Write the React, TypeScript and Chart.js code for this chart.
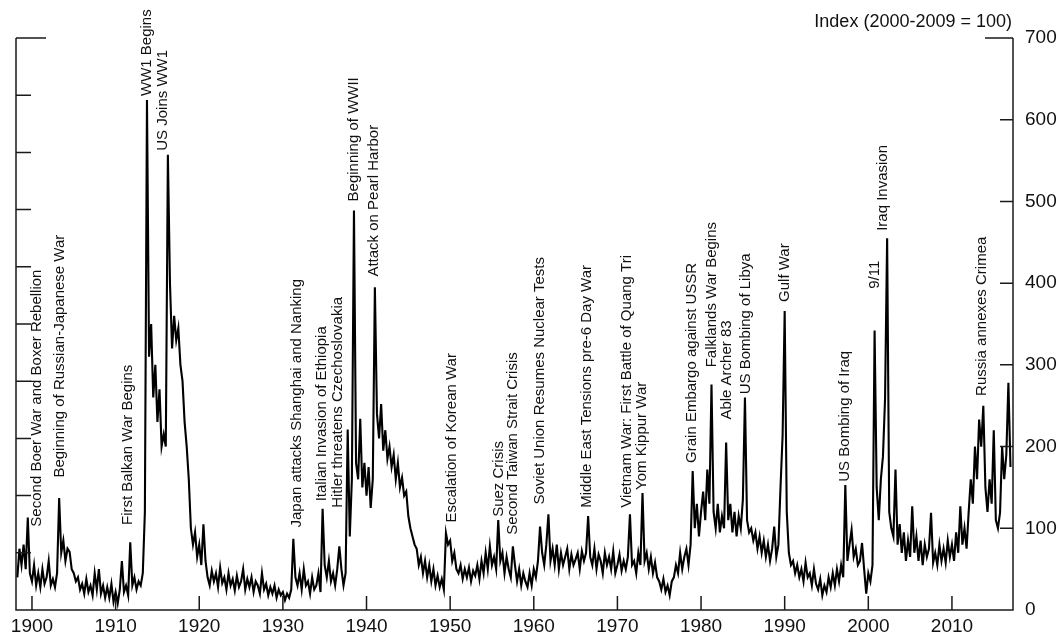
import { useEffect, useRef } from "react";
import { Chart, registerables } from "chart.js";

Chart.register(...registerables);

// Quarterly readings of the index (2000-2009 = 100), one array per decade
const gpr1890s = [40, 75, 55, 80, 50, 113, 45];
const gpr1900s = [
  35, 55, 30, 45, 28, 50, 32, 40, 60, 30, 38, 28, 45, 137, 70, 85, 60, 75, 71, 50,
  45, 35, 40, 25, 32, 20, 38, 22, 30, 18, 45, 25, 50, 20, 30, 15, 28, 15, 32, 10,
];
const gpr1910s = [
  22, 8, 25, 60, 22, 30, 18, 83, 30, 40, 25, 35, 30, 45, 120, 624, 310, 350, 260, 300,
  230, 270, 200, 215, 200, 557, 400, 320, 360, 330, 345, 300, 280, 230, 200, 160, 100, 80, 95, 65,
];
const gpr1920s = [
  80, 55, 105, 60, 40, 30, 48, 35, 45, 28, 52, 33, 40, 25, 45, 30, 38, 24, 42, 28,
  35, 50, 25, 38, 28, 40, 22, 35, 30, 20, 45, 25, 32, 18, 28, 20, 30, 15, 25, 18,
];
const gpr1930s = [
  22, 12, 20, 15, 25, 87, 40, 30, 45, 25, 50, 30, 35, 20, 40, 25, 30, 45, 22, 124,
  55, 40, 60, 35, 45, 30, 50, 78, 50, 30, 45, 221, 90, 160, 489, 180, 160, 234, 150, 180,
];
const gpr1940s = [
  140, 175, 125, 160, 395, 240, 210, 252, 195, 220, 185, 200, 175, 190, 160, 180, 150, 162, 140, 145,
  115, 100, 90, 80, 75, 55, 65, 45, 60, 40, 55, 35, 50, 30, 42, 28, 38, 25, 94, 80,
];
const gpr1950s = [
  85, 60, 70, 50, 45, 55, 38, 50, 40, 52, 35, 48, 42, 55, 38, 60, 45, 70, 50, 78,
  55, 65, 50, 110, 60, 70, 45, 65, 50, 40, 78, 55, 35, 50, 30, 45, 35, 28, 45, 30,
];
const gpr1960s = [
  50, 40, 60, 102, 70, 55, 80, 117, 60, 75, 55, 80, 50, 70, 55, 65, 75, 50, 68, 55,
  62, 70, 50, 72, 60, 70, 115, 65, 55, 75, 50, 68, 60, 45, 70, 55, 65, 50, 72, 45,
];
const gpr1970s = [
  55, 68, 48, 60, 50, 65, 117, 55, 60, 45, 70, 55, 143, 60, 70, 50, 65, 45, 58, 40,
  35, 25, 38, 22, 30, 18, 35, 40, 55, 45, 70, 50, 65, 75, 55, 80, 170, 100, 130, 90,
];
const gpr1980s = [
  120, 145, 110, 172, 130, 276, 120, 100, 130, 95, 115, 100, 205, 110, 130, 95, 120, 90, 115, 100,
  135, 260, 110, 95, 100, 85, 95, 75, 90, 70, 85, 65, 80, 60, 75, 102, 65, 80, 150, 213,
];
const gpr1990s = [
  366, 120, 70, 55, 60, 45, 55, 40, 50, 35, 58, 40, 45, 30, 50, 32, 25, 38, 18, 30,
  22, 40, 28, 45, 30, 50, 35, 55, 40, 153, 60, 80, 98, 65, 75, 55, 60, 82, 50, 20,
];
const gpr2000s = [
  45, 35, 55, 342, 150, 110, 160, 188, 258, 455, 120, 100, 90, 172, 80, 105, 70, 95, 60, 85,
  65, 127, 70, 90, 60, 85, 55, 80, 65, 75, 119, 58, 70, 55, 80, 60, 75, 58, 85, 65,
];
const gpr2010s = [
  80, 60, 95, 70, 127, 80, 100, 75, 120, 160, 130, 200, 160, 233, 200, 250, 150, 120, 160, 130,
  220, 110, 100, 119, 200, 160, 190, 278, 175,
];

const segmentStarts = [1898.25, 1900, 1910, 1920, 1930, 1940, 1950, 1960, 1970, 1980, 1990, 2000, 2010];
const segmentValues = [
  gpr1890s, gpr1900s, gpr1910s, gpr1920s, gpr1930s, gpr1940s, gpr1950s,
  gpr1960s, gpr1970s, gpr1980s, gpr1990s, gpr2000s, gpr2010s,
];

const yearTicks = [1900, 1910, 1920, 1930, 1940, 1950, 1960, 1970, 1980, 1990, 2000, 2010];
const indexTicks = [0, 100, 200, 300, 400, 500, 600, 700];
const leftTicks = [70, 140, 210, 280, 350, 420, 490, 560, 630, 700];

const eventLabels = [
  "Second Boer War and Boxer Rebellion",
  "Beginning of Russian-Japanese War",
  "First Balkan War Begins",
  "WW1 Begins",
  "US Joins WW1",
  "Japan attacks Shanghai and Nanking",
  "Italian Invasion of Ethiopia",
  "Hitler threatens Czechoslovakia",
  "Beginning of WWII",
  "Attack on Pearl Harbor",
  "Escalation of Korean War",
  "Suez Crisis",
  "Second Taiwan Strait Crisis",
  "Soviet Union Resumes Nuclear Tests",
  "Middle East Tensions pre-6 Day War",
  "Vietnam War: First Battle of Quang Tri",
  "Yom Kippur War",
  "Grain Embargo against USSR",
  "Falklands War Begins",
  "Able Archer 83",
  "US Bombing of Libya",
  "Gulf War",
  "US Bombing of Iraq",
  "9/11",
  "Iraq Invasion",
  "Russia annexes Crimea",
];
const eventYears = [
  1900.6, 1903.35, 1911.48, 1913.71, 1915.66, 1931.68, 1934.67, 1936.59, 1938.5, 1940.89,
  1950.22, 1955.78, 1957.51, 1960.68, 1966.36, 1971.14, 1972.93, 1978.91, 1981.3, 1983.1,
  1985.37, 1990.03, 1997.2, 2000.75, 2001.75, 2013.55,
];
const eventLevels = [
  102, 162, 104, 629, 562, 101, 133, 125, 500, 408,
  107, 114, 92, 129, 125, 125, 147, 180, 297, 233,
  264, 377, 157, 393, 464, 262,
];

const FONT = '"Liberation Sans", Arial, Helvetica, sans-serif';
const INK = "#111111";

export default function App() {
  const ref = useRef<HTMLCanvasElement | null>(null);

  useEffect(() => {
    const canvas = ref.current;
    if (!canvas) return;
    const points: { x: number; y: number }[] = [];
    segmentValues.forEach((vals, s) => {
      vals.forEach((v, i) => points.push({ x: segmentStarts[s] + i * 0.25, y: v }));
    });

    const framePlugin = {
      id: "frame",
      afterDraw(chart: any) {
        const { ctx, chartArea: a, scales } = chart;
        const xs = scales.x;
        const ys = scales.y;
        ctx.save();
        ctx.strokeStyle = "#1a1a1a";
        ctx.lineWidth = 1.5;
        ctx.beginPath();
        ctx.moveTo(a.left, ys.getPixelForValue(700));
        ctx.lineTo(a.left, a.bottom);
        ctx.lineTo(a.right, a.bottom);
        ctx.lineTo(a.right, ys.getPixelForValue(700));
        for (const v of leftTicks) {
          const py = ys.getPixelForValue(v);
          ctx.moveTo(a.left, py);
          ctx.lineTo(a.left + (v === 700 ? 30 : 15), py);
        }
        for (const v of indexTicks) {
          if (v === 0) continue;
          const py = ys.getPixelForValue(v);
          ctx.moveTo(a.right, py);
          ctx.lineTo(a.right - (v === 700 ? 28 : 13), py);
        }
        for (const yr of yearTicks) {
          const px = xs.getPixelForValue(yr);
          ctx.moveTo(px, a.bottom);
          ctx.lineTo(px, a.bottom - 14);
        }
        ctx.stroke();

        ctx.fillStyle = INK;
        ctx.font = `15px ${FONT}`;
        ctx.textAlign = "left";
        ctx.textBaseline = "middle";
        eventLabels.forEach((t, i) => {
          const px = xs.getPixelForValue(eventYears[i]);
          const py = ys.getPixelForValue(eventLevels[i]);
          ctx.save();
          ctx.translate(px, py);
          ctx.rotate(-Math.PI / 2);
          ctx.fillText(t, 0, 0);
          ctx.restore();
        });

        ctx.font = `18px ${FONT}`;
        ctx.textAlign = "right";
        ctx.fillText("Index (2000-2009 = 100)", a.right - 1, 22);
        ctx.restore();
      },
    };

    const chart = new Chart(canvas, {
      type: "line",
      data: {
        datasets: [
          {
            data: points,
            borderColor: "#000000",
            borderWidth: 2.1,
            borderJoinStyle: "miter",
            pointRadius: 0,
            tension: 0,
            fill: false,
          },
        ],
      },
      options: {
        animation: false,
        responsive: false,
        devicePixelRatio: 1,
        parsing: false,
        layout: { padding: { left: 16, top: 38, right: 0, bottom: 0 } },
        plugins: { legend: { display: false }, tooltip: { enabled: false }, title: { display: false } },
        scales: {
          x: {
            type: "linear",
            min: 1898.09,
            max: 2017.3,
            grid: { display: false, drawTicks: false },
            border: { display: false },
            afterBuildTicks: (s: any) => {
              s.ticks = yearTicks.map((v) => ({ value: v }));
            },
            afterFit: (s: any) => {
              s.height = 24;
            },
            ticks: {
              autoSkip: false,
              maxRotation: 0,
              padding: 5,
              color: INK,
              font: { family: FONT, size: 19 },
              callback: (v: any) => String(v),
            },
          },
          y: {
            position: "right",
            min: 0,
            max: 700,
            grid: { display: false, drawTicks: false },
            border: { display: false },
            afterBuildTicks: (s: any) => {
              s.ticks = indexTicks.map((v) => ({ value: v }));
            },
            afterFit: (s: any) => {
              s.width = 46;
            },
            ticks: {
              padding: 12,
              color: INK,
              font: { family: FONT, size: 19 },
              callback: (v: any) => String(v),
            },
          },
        },
      },
      plugins: [framePlugin],
    } as any);

    return () => chart.destroy();
  }, []);

  return (
    <div style={{ position: "fixed", left: 0, top: 0, width: 1059, height: 634, background: "#ffffff" }}>
      <canvas ref={ref} width={1059} height={634} style={{ display: "block", width: 1059, height: 634 }} />
    </div>
  );
}
